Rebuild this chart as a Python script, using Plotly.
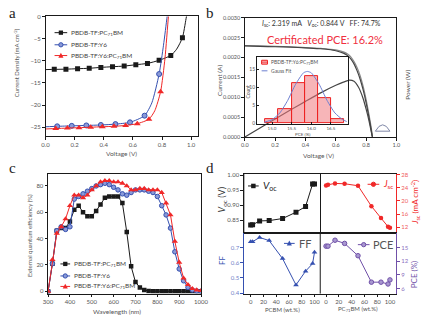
import plotly.graph_objects as go

W, H = 430, 322
def px(x): return x / W
def py(y): return 1 - y / H

FONT = "Lato"
GRAY = "#555555"

# ---------------- Panel a data (J-V) ----------------
a_blk_v = [0.0, 0.06, 0.14, 0.22, 0.30, 0.38, 0.46, 0.54, 0.62, 0.70, 0.78, 0.86, 0.90, 0.94, 0.965, 0.99]
a_blk_j = [-12.0, -11.95, -11.9, -11.8, -11.7, -11.5, -11.35, -11.2, -10.9, -10.6, -9.9, -8.8, -7.4, -4.8, -0.5, 4.0]
a_blk_mv = [0.06, 0.14, 0.22, 0.30, 0.38, 0.46, 0.54, 0.62, 0.70, 0.78, 0.86, 0.94]
a_blk_mj = [-11.95, -11.9, -11.8, -11.7, -11.5, -11.35, -11.2, -10.9, -10.6, -9.9, -8.8, -4.8]

a_blu_v = [0.0, 0.08, 0.18, 0.28, 0.38, 0.48, 0.58, 0.68, 0.73, 0.78, 0.81, 0.835, 0.85]
a_blu_j = [-24.9, -24.8, -24.7, -24.6, -24.5, -24.3, -23.9, -22.4, -19.5, -13.0, -6.5, 0.0, 4.0]
a_blu_mv = [0.08, 0.18, 0.28, 0.38, 0.48, 0.58, 0.68, 0.78]
a_blu_mj = [-24.8, -24.7, -24.6, -24.5, -24.3, -23.9, -22.4, -13.0]

a_red_v = [0.0, 0.07, 0.15, 0.23, 0.31, 0.39, 0.47, 0.55, 0.63, 0.71, 0.75, 0.79, 0.82, 0.844, 0.86]
a_red_j = [-25.4, -25.3, -25.2, -25.1, -25.0, -24.9, -24.8, -24.6, -24.2, -23.2, -21.3, -17.0, -9.5, 0.0, 5.0]
a_red_mv = [0.07, 0.15, 0.23, 0.31, 0.39, 0.47, 0.55, 0.63, 0.71, 0.79]
a_red_mj = [-25.3, -25.2, -25.1, -25.0, -24.9, -24.8, -24.6, -24.2, -23.2, -17.0]

# ---------------- Panel b data ----------------
b_v1 = [0.0, 0.1, 0.2, 0.3, 0.4, 0.5, 0.55, 0.6, 0.65, 0.68, 0.7, 0.72, 0.74, 0.76, 0.78, 0.8, 0.82, 0.835, 0.845]
b_i1 = [0.00229, 0.00228, 0.00227, 0.00226, 0.00224, 0.00222, 0.0022, 0.00217, 0.00211, 0.00204, 0.00196, 0.00184, 0.00167, 0.00146, 0.00119, 0.00086, 0.00047, 0.00015, -0.0001]
b_v2 = [0.0, 0.1, 0.2, 0.3, 0.4, 0.5, 0.55, 0.6, 0.65, 0.68, 0.7, 0.72, 0.74, 0.76, 0.78, 0.8, 0.82, 0.835, 0.845]
b_i2 = [0.00230, 0.00229, 0.00228, 0.00227, 0.00225, 0.00223, 0.00221, 0.00219, 0.00214, 0.00208, 0.00201, 0.0019, 0.00175, 0.00155, 0.00128, 0.00094, 0.00054, 0.0002, -0.0001]
b_pv = [0.0, 0.1, 0.2, 0.3, 0.4, 0.5, 0.6, 0.65, 0.69, 0.72, 0.75, 0.78, 0.8, 0.82, 0.84]
b_pw = [0.0, 0.000229, 0.000454, 0.000678, 0.000896, 0.00111, 0.0013, 0.00138, 0.00143, 0.0014, 0.00125, 0.00097, 0.0007, 0.00039, 0.00002]

# inset histogram
h_centers = [15.0, 15.333, 15.667, 16.0, 16.333, 16.667]
h_counts = [1, 4, 11, 13, 7, 1]
g_x = [14.8, 15.0, 15.2, 15.4, 15.6, 15.8, 15.9, 16.0, 16.2, 16.4, 16.6, 16.8, 16.9]
g_y = [0.2, 0.9, 2.8, 6.3, 10.8, 14.0, 14.4, 14.0, 10.8, 6.3, 2.8, 0.9, 0.4]

# ---------------- Panel c data (EQE) ----------------
c_wl = [300, 320, 340, 360, 380, 400, 420, 440, 460, 480, 500, 520, 540, 560, 580, 600, 620, 640,
        660, 680, 700, 720, 740, 760, 780, 800, 820, 840, 860, 880, 900, 920, 940, 960, 980, 1000]
c_blk = [0, 21, 46, 48, 48, 53, 62, 65, 60, 57, 57, 61, 66, 71, 72, 72, 72, 67,
         45, 19, 7, 3, 1, 0.3, 0, 0, 0, 0, 0, 0, 0, 0, 0, 0, 0, 0]
c_blu = [0, 21, 46, 49, 47, 49, 70, 72, 74, 76, 78, 80, 81, 82, 81, 79, 77, 74,
         73, 75, 77, 77, 77, 76, 75, 72, 65, 58, 48, 30, 17, 8, 3, 1, 0.3, 0]
c_red = [0, 24, 44, 49, 55, 65, 73, 73, 71, 73, 77, 80, 83, 84, 84, 83, 83, 82,
         80, 77, 77, 78, 78, 77, 77, 77, 75, 67, 58, 38, 22, 10, 5, 2, 1, 0.5]

# ---------------- Panel d data ----------------
d_x = [0, 3, 14, 29, 50, 71, 86, 97, 100]
d_voc = [0.833, 0.834, 0.847, 0.848, 0.855, 0.876, 0.895, 0.970, 0.970]
d_jsc = [24.7, 24.9, 25.3, 25.2, 24.6, 18.4, 14.8, 12.2, 11.9]
d_ff = [0.739, 0.740, 0.768, 0.747, 0.628, 0.454, 0.545, 0.595, 0.670]
d_pce = [15.3, 15.3, 16.6, 15.9, 13.2, 7.4, 7.4, 7.0, 7.9]

BLK = "#1a1a1a"
BLU = "#3550b0"
BLU_L = "#8a9ad8"
RED = "#f02828"
PUR = "#7050a8"

fig = go.Figure()

def line(x, y, color, xa, ya, width=1, shape="spline", smoothing=0.6):
    fig.add_trace(go.Scatter(x=x, y=y, mode="lines", line=dict(color=color, width=width, shape=shape, smoothing=smoothing),
                             xaxis=xa, yaxis=ya, showlegend=False, hoverinfo="skip"))

def marks(x, y, color, symbol, size, xa, ya, fill=None, lw=0):
    fig.add_trace(go.Scatter(x=x, y=y, mode="markers",
                             marker=dict(color=fill or color, symbol=symbol, size=size, line=dict(color=color, width=lw)),
                             xaxis=xa, yaxis=ya, showlegend=False, hoverinfo="skip"))

# panel a
line(a_blk_v, a_blk_j, BLK, "x", "y")
marks(a_blk_mv, a_blk_mj, BLK, "square", 5, "x", "y")
line(a_blu_v, a_blu_j, BLU, "x", "y")
marks(a_blu_mv, a_blu_mj, BLU, "circle", 5, "x", "y", fill=BLU_L, lw=1)
line(a_red_v, a_red_j, RED, "x", "y")
marks(a_red_mv, a_red_mj, RED, "triangle-up", 6, "x", "y")

# panel b inset (drawn first)
fig.add_trace(go.Bar(x=h_centers, y=h_counts, width=0.333, marker=dict(color="rgba(240,120,125,0.55)", line=dict(color="#ee2020", width=1)),
                     xaxis="x3", yaxis="y3", showlegend=False, hoverinfo="skip"))
line(g_x, g_y, "#6d7fd0", "x3", "y3", width=1)

# panel b main
line(b_v2, b_i2, "#8a8a8a", "x2", "y2", width=1.2)
line(b_v1, b_i1, "#444444", "x2", "y2", width=1.2)
line(b_pv, b_pw, "#444444", "x2", "y2", width=1.2)

# panel c
line(c_wl, c_blk, BLK, "x4", "y4", shape="linear")
marks(c_wl, c_blk, BLK, "square", 4.5, "x4", "y4")
line(c_wl, c_blu, BLU, "x4", "y4", shape="linear")
marks(c_wl, c_blu, BLU, "circle", 4.5, "x4", "y4", fill=BLU_L, lw=1)
line(c_wl, c_red, RED, "x4", "y4", shape="linear")
marks(c_wl, c_red, RED, "triangle-up", 5.5, "x4", "y4")

# panel d
line(d_x, d_voc, BLK, "x5", "y5", shape="linear")
marks(d_x, d_voc, BLK, "square", 5, "x5", "y5")
line(d_x, d_jsc, RED, "x6", "y6", shape="linear")
marks(d_x, d_jsc, RED, "circle", 4.5, "x6", "y6")
line(d_x, d_ff, BLU, "x7", "y7", shape="linear")
marks(d_x, d_ff, BLU, "triangle-up", 5, "x7", "y7")
line(d_x, d_pce, PUR, "x8", "y8", shape="linear")
marks(d_x, d_pce, PUR, "circle", 4.5, "x8", "y8", fill="#a898d0", lw=1)

def xax(d0, d1, rng, anchor, dtick=None, tickvals=None, fmt=None, labels=True, tcol=GRAY, lcol=BLK, ticks="outside", fs=6, mirror=True, tick0=None, ticklen=2.5):
    a = dict(domain=[px(d0), px(d1)], range=rng, anchor=anchor, showgrid=False, zeroline=False,
             showline=True, linecolor=lcol, linewidth=1, mirror=mirror, ticks=ticks if labels else "",
             ticklen=ticklen, tickcolor=lcol, tickwidth=1, showticklabels=labels,
             tickfont=dict(size=fs, color=tcol, family=FONT))
    if dtick is not None:
        a["dtick"] = dtick
    if tick0 is not None:
        a["tick0"] = tick0
    if tickvals is not None:
        a["tickvals"] = tickvals
    if fmt:
        a["tickformat"] = fmt
    return a

def yax(t0, t1, rng, anchor, dtick=None, tickvals=None, fmt=None, labels=True, tcol=GRAY, lcol=BLK, side="left", fs=6, mirror=True, ticks="outside", ticklen=2.5):
    a = dict(domain=[py(t1), py(t0)], range=rng, anchor=anchor, showgrid=False, zeroline=False,
             showline=True, linecolor=lcol, linewidth=1, mirror=mirror, ticks=ticks, side=side,
             ticklen=ticklen, tickcolor=lcol, tickwidth=1, showticklabels=labels,
             tickfont=dict(size=fs, color=tcol, family=FONT))
    if dtick is not None:
        a["dtick"] = dtick
    if tickvals is not None:
        a["tickvals"] = tickvals
    if fmt:
        a["tickformat"] = fmt
    return a

layout = dict(
    width=W, height=H, margin=dict(l=0, r=0, t=0, b=0), paper_bgcolor="white", plot_bgcolor="rgba(0,0,0,0)",
    showlegend=False, font=dict(family=FONT, color=GRAY), bargap=0,
    xaxis=xax(41.7, 199, [0, 1.05], "y", dtick=0.2, tick0=0, fmt=".1f"),
    yaxis=yax(12.7, 135, [-27, 0], "x", dtick=5),
    xaxis2=xax(246.7, 402.7, [0, 1.0], "y2", dtick=0.2, tick0=0, fmt=".1f", fs=5.5),
    yaxis2=yax(14, 136, [0, 0.003], "x2", dtick=0.0005, fmt=".4f", fs=5.5),
    xaxis3=xax(259.3, 352.7, [14.62, 16.93], "y3", tickvals=[15.0, 15.5, 16.0, 16.5], fmt=".1f", fs=4.5, ticks="inside", ticklen=1.5),
    yaxis3=yax(54.3, 122.3, [-0.2, 18.4], "x3", tickvals=[0, 5, 10, 15], fs=5, ticks="inside", ticklen=1.5),
    xaxis4=xax(44.3, 201.7, [300, 1000], "y4", dtick=100, tick0=300),
    yaxis4=yax(174, 296, [-1.7, 88.9], "x4", dtick=20),
    xaxis5=xax(245.7, 324.3, [-10.7, 109], "y5", labels=False),
    yaxis5=yax(173.3, 234, [0.807, 1.005], "x5", tickvals=[0.85, 0.90, 0.95, 1.00], fmt=".2f", fs=6),
    xaxis6=xax(324.3, 402.7, [-9.1, 110.2], "y6", labels=False),
    yaxis6=yax(173.3, 234, [10.3, 28.3], "x6", tickvals=[12, 16, 20, 24, 28], side="right", lcol=RED, tcol="#f06060", mirror=False),
    xaxis7=xax(245.7, 324.3, [-10.7, 109], "y7", dtick=20, tick0=0),
    yaxis7=yax(234, 296, [0.397, 0.798], "x7", tickvals=[0.4, 0.5, 0.6, 0.7], fmt=".1f", lcol=BLU, tcol="#7080c8", mirror=False),
    xaxis8=xax(324.3, 402.7, [-9.1, 110.2], "y8", dtick=20, tick0=0),
    yaxis8=yax(234, 296, [4.9, 18.2], "x8", tickvals=[6, 9, 12, 15], side="right", lcol=PUR, tcol="#8a70c0", mirror=False),
)
fig.update_layout(**layout)

shapes = []
annotations = []

# divider lines in panel d
shapes.append(dict(type="line", xref="paper", yref="paper", x0=px(324.3), x1=px(324.3), y0=py(296), y1=py(234), line=dict(color=BLK, width=1)))
shapes.append(dict(type="line", xref="paper", yref="paper", x0=px(245.7), x1=px(245.7), y0=py(234), y1=py(173.3), line=dict(color=BLK, width=1)))

def txt(x, y, text, size, color=GRAY, angle=0, anchor="center", family=FONT):
    annotations.append(dict(x=px(x), y=py(y), xref="paper", yref="paper", text=text, showarrow=False,
                            xanchor=anchor, yanchor="middle", textangle=angle,
                            font=dict(size=size, color=color, family=family)))

def legend_item(x0, x1, y, color, symbol, text, fsize, s=2.2, tcolor="#444", fill=None):
    shapes.append(dict(type="line", xref="paper", yref="paper", x0=px(x0), x1=px(x1), y0=py(y), y1=py(y), line=dict(color=color, width=1)))
    cx = (x0 + x1) / 2
    if symbol == "square":
        shapes.append(dict(type="rect", xref="paper", yref="paper", x0=px(cx - s), x1=px(cx + s), y0=py(y + s), y1=py(y - s), fillcolor=color, line=dict(width=0)))
    elif symbol == "circle":
        shapes.append(dict(type="circle", xref="paper", yref="paper", x0=px(cx - s), x1=px(cx + s), y0=py(y + s), y1=py(y - s), fillcolor=fill or color, line=dict(color=color, width=1)))
    elif symbol == "triangle":
        path = f"M{px(cx - s*1.2)},{py(y + s)} L{px(cx + s*1.2)},{py(y + s)} L{px(cx)},{py(y - s*1.3)} Z"
        shapes.append(dict(type="path", xref="paper", yref="paper", path=path, fillcolor=color, line=dict(width=0)))
    elif symbol == "box":
        shapes.append(dict(type="rect", xref="paper", yref="paper", x0=px(x0), x1=px(x1), y0=py(y + 2), y1=py(y - 2), fillcolor="rgba(240,120,125,0.55)", line=dict(color="#ee2020", width=1)))
    txt(x1 + 2, y, text, fsize, tcolor, anchor="left")

# panel labels
txt(8, 9, "a", 15, "#222", family="Liberation Serif")
txt(211, 9, "b", 15, "#222", family="Liberation Serif")
txt(8, 168, "c", 15, "#222", family="Liberation Serif")
txt(211, 168, "d", 15, "#222", family="Liberation Serif")

# panel a
txt(12, 60, "Current Density (mA cm<sup>-2</sup>)", 6, angle=-90)
txt(120, 153, "Voltage (V)", 6.5)
legend_item(51, 64, 29.3, BLK, "square", "PBDB-TF:PC<sub>71</sub>BM", 6.5)
legend_item(51, 64, 41.7, BLU, "circle", "PBDB-TF:Y6", 6.5, fill=BLU_L)
legend_item(51, 64, 52.7, RED, "triangle", "PBDB-TF:Y6:PC<sub>71</sub>BM", 6.5)

# panel b
txt(220, 78, "Current (A)", 6.5, angle=-90)
txt(414, 82, "Power (W)", 6.5, angle=-90)
txt(323, 155, "Voltage (V)", 6.5)
txt(325.5, 20, "<i>I</i><sub>sc</sub>: 2.319 mA   <i>V</i><sub>oc</sub>: 0.844 V   FF: 74.7%", 7, "#333")
txt(329.5, 36, "Certificated PCE: 16.2%", 11, "#f03040")
txt(250.5, 90, "Count", 5, angle=-90)
txt(306, 133.2, "PCE (%)", 4.5)
legend_item(264, 270, 59.5, RED, "box", "PBDB-TF:Y6:PC<sub>71</sub>BM", 5, tcolor="#555")
legend_item(264, 270, 68.3, "#6d7fd0", "none", "Gauss Fit", 5, tcolor="#555")
# certification logo (small grey dome)
shapes.append(dict(type="path", xref="paper", yref="paper",
                   path=f"M{px(381)},{py(130)} Q{px(388.5)},{py(117)} {px(396)},{py(130)} Z",
                   fillcolor="rgba(0,0,0,0)", line=dict(color="#8088a8", width=1)))

# panel c
txt(26, 237, "External quantum efficiency (%)", 6, angle=-90)
txt(115, 314, "Wavelength (nm)", 6.5)
legend_item(57, 67, 265.7, BLK, "square", "PBDB-TF:PC<sub>71</sub>BM", 6.5)
legend_item(57, 67, 278, BLU, "circle", "PBDB-TF:Y6", 6.5, fill=BLU_L)
legend_item(57, 67, 288.7, RED, "triangle", "PBDB-TF:Y6:PC<sub>71</sub>BM", 6.5)

# panel d
txt(223, 200, "<i>V</i><sub>oc</sub> (V)", 9, "#333", angle=-90)
txt(421, 203, "<i>J</i><sub>sc</sub> (mA cm<sup>-2</sup>)", 8, RED, angle=-90)
txt(224, 262, "FF", 8, BLU, angle=-90)
txt(421, 276, "PCE (%)", 8, PUR, angle=-90)
txt(285, 312, "PCBM (wt.%)", 6)
txt(363, 312, "PC<sub>71</sub>BM (wt.%)", 6)
legend_item(250, 261, 186, BLK, "square", "<i>V</i><sub>oc</sub>", 10, s=2.3, tcolor="#222")
legend_item(373, 385, 184.3, RED, "circle", "<i>J</i><sub>sc</sub>", 9, s=2.2, tcolor=RED)
legend_item(287, 298, 244.7, BLU, "triangle", "FF", 11, s=2.2, tcolor="#555")
legend_item(363, 375, 246, PUR, "circle", "PCE", 11, s=2.2, tcolor="#555", fill="#a898d0")

fig.update_layout(shapes=shapes, annotations=annotations)
fig.write_html("out.html")
